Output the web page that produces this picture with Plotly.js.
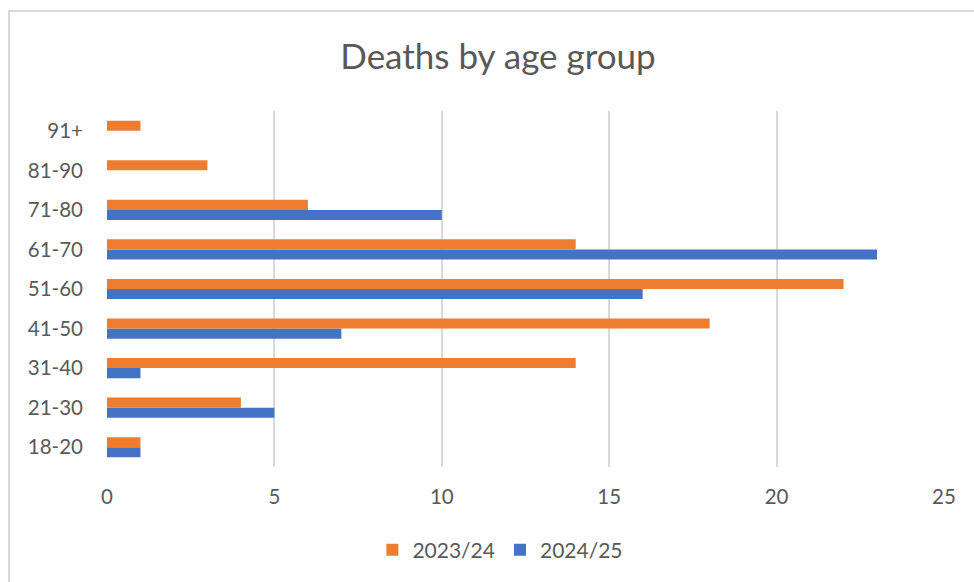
<!DOCTYPE html>
<html>
<head>
<meta charset="utf-8">
<script src="https://cdn.plot.ly/plotly-3.0.1.min.js"></script>
<style>
  html, body { margin: 0; padding: 0; background: #fff; }
  #wrap { position: relative; width: 974px; height: 582px; overflow: hidden; }
  #chart { position: absolute; left: 0; top: 0; width: 974px; height: 582px; }
  #frame { position: absolute; left: 8px; top: 10px; width: 1000px; height: 600px;
           border-left: 2px solid #d9d9d9; border-top: 2px solid #d9d9d9; pointer-events: none; }
</style>
</head>
<body>
<div id="wrap">
  <div id="chart"></div>
  <div id="frame"></div>
</div>
<script>
// Age bands, bottom to top
const ageGroups = ["18-20", "21-30", "31-40", "41-50", "51-60", "61-70", "71-80", "81-90", "91+"];
// Number of deaths per age band
const deaths2023 = [1, 4, 14, 18, 22, 14, 6, 3, 1];
const deaths2024 = [1, 5, 1, 7, 16, 23, 10, 0, 0];
const xTicks = [0, 5, 10, 15, 20, 25];

const FONT = "Lato, 'Open Sans', sans-serif";
const GREY = "#595959";

// 2024/25 goes first so it sits below 2023/24 in each group
const traces = [
  { type: "bar", orientation: "h", name: "2024/25", y: ageGroups, x: deaths2024,
    marker: { color: "#4472C4" }, hoverinfo: "x+y+name" },
  { type: "bar", orientation: "h", name: "2023/24", y: ageGroups, x: deaths2023,
    marker: { color: "#ED7D31" }, hoverinfo: "x+y+name" }
];

const layout = {
  width: 974, height: 582,
  margin: { l: 107, r: 30, t: 111, b: 115 },
  paper_bgcolor: "#fff", plot_bgcolor: "#fff",
  font: { family: FONT, color: GREY, size: 20 },
  title: { text: "Deaths by age group", x: 498 / 974, xref: "container", xanchor: "center",
           y: 1 - 57 / 582, yref: "container", yanchor: "middle",
           font: { family: FONT, size: 35, color: GREY } },
  barmode: "group", bargap: 0.49, bargroupgap: 0,
  xaxis: { range: [0, 25], tickvals: xTicks, ticktext: xTicks.map(String),
           showgrid: true, gridcolor: "#d9d9d9", gridwidth: 1.5,
           zeroline: false, showline: false, ticks: "",
           ticklabelstandoff: 15, tickfont: { size: 20.5, color: GREY } },
  yaxis: { type: "category", categoryorder: "array", categoryarray: ageGroups,
           showgrid: false, zeroline: false, showline: false, ticks: "",
           ticklabelstandoff: 23, tickfont: { size: 20.5, color: GREY } },
  showlegend: true,
  legend: { orientation: "h", traceorder: "reversed", x: 0.47, xanchor: "center",
            y: 32 / 582, yref: "container", yanchor: "middle",
            font: { size: 21, color: GREY }, itemwidth: 30 }
};

Plotly.newPlot("chart", traces, layout, { displayModeBar: false });
</script>
</body>
</html>
